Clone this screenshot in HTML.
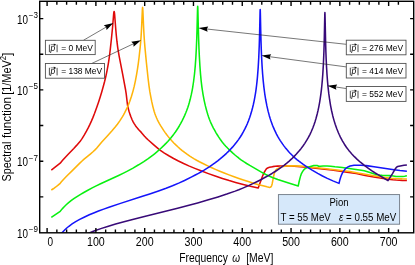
<!DOCTYPE html>
<html><head><meta charset="utf-8"><title>Pion spectral function</title>
<style>html,body{margin:0;padding:0;background:#fff;width:415px;height:265px;overflow:hidden}
body{font-family:"Liberation Sans",sans-serif}svg{display:block;position:absolute;left:0;top:0;will-change:transform}</style></head>
<body>
<svg width="415" height="265" viewBox="0 0 415 265">
<rect width="415" height="265" fill="#fff"/>
<clipPath id="c"><rect x="39.7" y="1.3" width="374" height="231.5"/></clipPath>
<g clip-path="url(#c)" fill="none" stroke-width="1.55" stroke-linejoin="round" stroke-linecap="butt">
<path d="M51.30 170.10 L60.20 163.20 L60.20 163.20 L62.60 160.31 L65.40 157.19 L68.20 154.21 L73.80 148.43 L76.60 145.38 L80.20 141.18 L81.00 140.14 L82.20 138.41 L84.20 135.16 L86.60 130.94 L88.20 127.92 L89.80 124.64 L91.40 121.14 L93.00 117.39 L94.60 113.31 L96.60 107.85 L98.60 102.05 L100.20 97.06 L101.80 91.73 L103.40 86.08 L104.60 81.54 L105.80 76.55 L107.00 70.92 L107.80 66.68 L108.49 62.62 L109.13 58.43 L109.69 54.23 L110.33 48.87 L111.40 38.98 L112.57 27.23 L113.65 14.02 L113.89 12.15 L114.01 11.67 L114.09 11.53 L114.13 11.52 L114.21 11.61 L114.33 12.04 L114.60 14.11 L115.77 29.20 L116.29 35.21 L116.97 41.72 L117.73 47.58 L118.37 51.71 L119.09 55.79 L122.60 73.81 L125.60 90.00 L126.20 93.95 L127.50 105.00 L127.50 105.00 L128.50 109.37 L129.00 111.21 L130.00 114.38 L131.00 117.08 L132.00 119.52 L133.00 121.65 L134.00 123.43 L135.50 125.69 L136.50 127.02 L138.00 128.88 L139.00 130.01 L141.50 132.65 L144.50 136.22 L146.00 137.82 L148.00 139.71 L153.50 144.61 L157.00 147.62 L160.00 150.10 L160.00 150.10 L164.40 153.05 L168.80 155.76 L173.60 158.48 L178.40 161.01 L183.60 163.53 L188.80 165.88 L194.80 168.40 L201.60 171.09 L208.40 173.64 L215.20 176.05 L222.40 178.44 L229.20 180.55 L235.60 182.38 L243.20 184.38 L250.40 186.18 L258.20 188.00 L258.20 188.00 L262.20 177.07 L263.10 174.80 L264.20 172.42 L264.70 171.48 L265.70 169.85 L266.20 169.12 L266.70 168.54 L267.20 168.18 L268.20 167.71 L269.50 167.30 L271.20 166.89 L272.70 166.64 L275.20 166.35 L277.70 166.11 L279.70 165.97 L282.20 165.90 L287.20 165.95 L291.20 166.04 L294.20 166.21 L306.70 167.31 L324.70 169.25 L331.70 170.08 L338.70 170.98 L345.20 171.88 L350.70 172.70 L356.20 173.61 L365.20 175.41 L375.20 177.23 L380.20 178.04 L388.20 179.19 L392.70 179.74 L396.20 180.05 L402.20 180.37 L406.90 180.50" stroke="#df0a0a"/>
<path d="M51.30 190.00 L53.30 188.76 L55.80 186.99 L57.80 185.44 L60.20 183.30 L60.20 183.30 L61.40 181.82 L63.00 179.96 L65.80 176.95 L67.80 174.95 L71.80 171.09 L79.80 163.12 L81.80 161.23 L83.80 159.45 L90.60 153.81 L93.00 151.74 L95.00 149.90 L96.60 148.23 L101.80 141.99 L107.80 135.52 L111.80 131.04 L115.00 127.26 L117.40 124.22 L119.80 120.89 L122.20 117.16 L123.40 115.13 L124.60 112.95 L126.60 108.97 L128.20 105.37 L129.80 101.25 L131.40 96.52 L133.00 91.11 L134.20 86.39 L135.40 80.83 L136.60 74.39 L137.36 69.79 L138.28 63.53 L139.08 57.27 L140.12 47.81 L140.68 41.86 L141.04 37.07 L141.36 31.83 L141.72 24.57 L142.32 10.48 L142.48 8.01 L142.60 7.40 L142.72 8.05 L142.88 10.56 L143.52 25.54 L143.96 34.07 L144.40 40.77 L144.92 47.17 L146.36 62.28 L148.00 77.74 L149.00 85.96 L149.80 91.43 L150.20 93.72 L151.00 97.96 L151.80 101.88 L153.00 107.09 L154.20 111.48 L155.00 113.90 L155.80 116.03 L156.60 118.00 L157.40 119.79 L158.20 121.41 L159.40 123.62 L160.60 125.64 L162.20 128.18 L163.80 130.63 L165.00 132.37 L166.60 134.57 L168.20 136.63 L170.00 138.80 L171.80 140.83 L173.80 142.94 L175.80 144.92 L177.80 146.79 L179.80 148.55 L182.20 150.53 L184.60 152.39 L187.00 154.16 L189.80 156.10 L191.80 157.41 L194.20 158.88 L196.60 160.26 L199.40 161.78 L203.40 163.81 L208.20 166.14 L211.80 167.81 L215.40 169.40 L219.80 171.26 L224.20 173.04 L229.00 174.90 L233.40 176.53 L238.20 178.24 L243.40 180.00 L249.00 181.81 L254.20 183.41 L258.60 184.68 L263.00 185.85 L267.00 186.84 L269.70 187.40 L269.70 187.40 L270.20 187.30 L270.70 187.02 L271.20 186.60 L271.70 185.50 L272.20 183.68 L273.70 175.97 L274.20 173.71 L274.60 172.40 L275.20 171.08 L275.70 170.26 L276.00 169.90 L276.70 169.27 L277.70 168.61 L279.70 167.63 L281.70 166.84 L282.70 166.56 L283.50 166.40 L286.20 166.04 L288.20 165.86 L290.00 165.80 L293.70 165.86 L300.20 166.11 L303.20 166.29 L308.20 166.74 L324.20 168.46 L341.20 170.44 L350.00 171.60 L355.20 172.44 L376.70 176.22 L380.20 176.75 L387.20 177.68 L391.70 178.20 L395.70 178.53 L402.20 178.81 L406.90 178.90" stroke="#ffb40a"/>
<path d="M51.30 217.40 L60.20 211.30 L60.20 211.30 L62.20 208.87 L64.20 206.72 L66.20 204.78 L68.60 202.67 L71.40 200.45 L74.20 198.43 L77.40 196.31 L80.60 194.33 L83.80 192.46 L87.40 190.47 L92.20 187.93 L96.20 185.90 L100.60 183.79 L118.60 175.51 L124.00 172.90 L127.40 171.17 L132.60 168.31 L138.60 164.79 L143.80 161.55 L148.20 158.59 L152.60 155.39 L154.60 153.83 L156.60 152.20 L160.20 149.01 L164.20 145.16 L166.20 143.12 L167.80 141.41 L171.00 137.72 L173.80 134.17 L175.40 131.96 L176.60 130.21 L178.20 127.73 L179.40 125.73 L180.60 123.61 L182.20 120.60 L183.40 118.19 L184.60 115.61 L185.80 112.79 L186.60 110.74 L187.80 107.39 L188.60 104.95 L189.40 102.28 L190.20 99.32 L191.40 94.19 L192.02 91.12 L192.62 87.80 L193.62 81.25 L194.50 73.97 L195.22 66.32 L195.86 57.41 L196.34 48.57 L196.74 38.81 L197.06 28.50 L197.54 9.11 L197.62 7.03 L197.70 6.25 L197.80 7.40 L197.90 10.46 L198.34 28.93 L198.66 39.82 L199.00 48.93 L199.38 57.00 L199.94 66.35 L200.54 74.33 L201.18 81.09 L201.94 87.29 L202.98 94.12 L203.58 97.46 L204.20 100.58 L205.40 105.89 L206.20 109.02 L207.00 111.89 L207.80 114.54 L208.60 116.98 L209.40 119.21 L210.20 121.26 L211.00 123.13 L212.20 125.69 L213.40 128.03 L214.60 130.23 L216.20 133.04 L217.40 135.02 L218.60 136.91 L220.20 139.27 L221.80 141.45 L223.00 142.97 L224.20 144.40 L225.80 146.17 L227.80 148.25 L230.20 150.60 L232.60 152.85 L235.00 154.98 L237.40 156.98 L239.40 158.55 L241.40 160.02 L243.80 161.67 L246.60 163.48 L249.80 165.42 L261.80 172.30 L265.80 174.49 L269.00 176.04 L273.00 177.69 L277.80 179.42 L288.60 183.02 L298.20 186.00 L298.20 186.00 L299.20 181.22 L300.20 177.35 L300.70 175.63 L301.20 174.18 L301.70 173.10 L302.70 171.33 L303.70 169.94 L304.20 169.40 L304.80 168.90 L305.70 168.33 L307.20 167.58 L308.70 167.01 L312.20 165.93 L313.70 165.56 L314.70 165.42 L315.70 165.41 L317.20 165.53 L317.70 165.71 L318.70 166.18 L319.20 166.30 L320.20 166.27 L323.20 165.97 L324.60 165.90 L327.20 165.96 L330.70 166.16 L335.00 166.80 L342.20 167.60 L345.70 168.05 L361.20 170.27 L364.30 170.80 L366.70 171.40 L372.20 173.20 L374.70 174.12 L375.70 174.43 L377.70 174.84 L379.70 175.13 L382.20 175.31 L389.70 175.64 L391.70 175.85 L396.20 176.44 L398.70 176.60 L400.70 176.56 L402.70 176.41 L404.70 176.17 L406.90 175.80" stroke="#08f010"/>
<path d="M61.30 233.67 L62.50 232.28 L63.70 230.99 L64.90 229.77 L66.50 228.27 L68.90 226.27 L70.50 225.07 L72.10 223.96 L75.70 221.67 L79.70 219.41 L84.10 217.19 L89.30 214.81 L93.70 212.96 L98.50 211.07 L103.70 209.13 L109.70 207.00 L120.50 203.38 L140.90 196.81 L149.70 193.93 L158.50 190.93 L166.10 188.22 L172.50 185.74 L179.30 182.87 L184.50 180.47 L191.70 176.92 L195.30 175.06 L198.50 173.34 L201.30 171.77 L204.10 170.12 L206.90 168.37 L209.70 166.54 L212.50 164.62 L215.30 162.62 L217.70 160.82 L220.10 158.92 L222.50 156.92 L224.50 155.16 L226.50 153.31 L228.50 151.36 L230.50 149.31 L232.50 147.14 L234.50 144.82 L236.50 142.32 L238.50 139.62 L240.10 137.28 L241.70 134.74 L243.30 131.97 L244.90 128.93 L246.10 126.44 L247.30 123.73 L248.50 120.75 L249.70 117.46 L250.50 115.06 L251.70 111.05 L252.50 108.05 L253.30 104.74 L254.20 100.56 L254.88 96.96 L255.48 93.37 L256.04 89.55 L256.56 85.49 L257.00 81.57 L257.44 77.08 L258.20 67.34 L258.76 57.55 L259.24 45.89 L259.60 33.52 L260.04 13.17 L260.12 10.52 L260.20 9.53 L260.28 10.51 L260.36 13.16 L260.72 30.25 L261.00 41.12 L261.30 50.09 L261.64 58.05 L262.08 66.15 L262.60 73.68 L263.20 80.62 L263.92 87.35 L264.76 93.76 L265.76 100.01 L266.90 105.93 L268.10 111.17 L269.30 115.66 L270.10 118.33 L270.90 120.78 L272.50 125.17 L273.30 127.16 L274.50 129.92 L276.50 134.04 L277.70 136.27 L278.90 138.36 L280.10 140.32 L281.30 142.17 L282.50 143.91 L284.10 146.10 L285.30 147.65 L286.90 149.60 L288.50 151.44 L290.10 153.17 L291.70 154.81 L293.30 156.36 L294.90 157.82 L296.90 159.54 L298.90 161.15 L300.90 162.67 L303.30 164.39 L305.70 166.02 L308.90 168.10 L312.10 170.10 L317.70 173.42 L322.50 176.01 L327.30 178.35 L332.90 180.87 L339.00 183.40 L339.00 183.40 L340.00 179.41 L340.50 177.70 L341.20 175.70 L342.00 173.90 L342.50 172.95 L343.00 172.11 L344.00 170.61 L345.00 169.25 L345.50 168.68 L346.00 168.19 L346.50 167.80 L348.00 166.91 L349.00 166.44 L350.00 166.07 L351.50 165.73 L354.00 165.35 L355.00 165.25 L356.40 165.20 L361.00 165.32 L364.50 165.51 L366.00 165.64 L368.00 165.89 L374.00 166.76 L389.00 169.09 L394.00 169.82 L400.00 170.54 L406.90 171.20" stroke="#1414fa"/>
<path d="M88.00 233.47 L94.00 231.07 L100.80 228.62 L107.60 226.40 L115.60 224.01 L124.00 221.67 L133.60 219.14 L144.40 216.41 L177.60 208.17 L188.00 205.49 L197.60 202.91 L208.40 199.85 L218.00 196.94 L226.80 194.08 L235.20 191.13 L238.80 189.76 L242.80 188.11 L248.00 185.84 L252.80 183.66 L256.80 181.72 L260.80 179.69 L264.80 177.55 L268.80 175.32 L272.00 173.46 L275.20 171.49 L278.40 169.39 L281.20 167.44 L284.00 165.36 L286.80 163.14 L289.20 161.11 L291.60 158.94 L294.00 156.61 L296.40 154.09 L298.80 151.36 L300.80 148.89 L302.80 146.24 L304.80 143.37 L306.80 140.21 L308.40 137.42 L310.00 134.32 L311.20 131.76 L312.80 127.95 L314.00 124.74 L315.20 121.14 L316.00 118.48 L317.20 114.02 L318.00 110.63 L318.80 106.83 L319.54 102.84 L320.22 98.66 L320.86 94.14 L321.42 89.55 L321.90 85.00 L322.38 79.67 L322.78 74.41 L323.42 63.59 L323.94 50.97 L324.34 36.61 L324.78 14.98 L324.90 12.53 L324.98 13.67 L325.06 16.66 L325.62 43.12 L325.90 52.26 L326.18 59.48 L326.58 67.66 L327.02 74.79 L327.54 81.58 L328.10 87.57 L328.82 93.90 L329.66 99.99 L330.58 105.55 L331.60 110.75 L332.80 115.93 L334.00 120.36 L335.20 124.24 L336.80 128.77 L338.40 132.73 L339.20 134.54 L340.40 137.06 L342.40 140.85 L344.40 144.21 L346.40 147.21 L348.80 150.40 L350.00 151.86 L351.60 153.70 L354.40 156.68 L357.20 159.39 L360.40 162.21 L364.40 165.43 L368.40 168.43 L371.60 170.65 L375.20 172.98 L378.40 174.93 L382.80 177.49 L388.00 180.70 L388.00 180.70 L392.50 173.54 L395.00 169.24 L396.00 167.83 L397.00 166.84 L397.50 166.56 L399.00 166.15 L404.00 165.29 L406.90 164.90" stroke="#380a78"/>
</g>
<rect x="39.7" y="1.3" width="374" height="231.5" stroke="#000" stroke-width="1.4" fill="none"/>
<path d="M47.10 232.8v-4.8 M47.10 1.3v4.8 M56.86 232.8v-3.4 M56.86 1.3v3.4 M66.62 232.8v-3.4 M66.62 1.3v3.4 M76.37 232.8v-3.4 M76.37 1.3v3.4 M86.13 232.8v-3.4 M86.13 1.3v3.4 M95.89 232.8v-4.8 M95.89 1.3v4.8 M105.65 232.8v-3.4 M105.65 1.3v3.4 M115.41 232.8v-3.4 M115.41 1.3v3.4 M125.16 232.8v-3.4 M125.16 1.3v3.4 M134.92 232.8v-3.4 M134.92 1.3v3.4 M144.68 232.8v-4.8 M144.68 1.3v4.8 M154.44 232.8v-3.4 M154.44 1.3v3.4 M164.20 232.8v-3.4 M164.20 1.3v3.4 M173.95 232.8v-3.4 M173.95 1.3v3.4 M183.71 232.8v-3.4 M183.71 1.3v3.4 M193.47 232.8v-4.8 M193.47 1.3v4.8 M203.23 232.8v-3.4 M203.23 1.3v3.4 M212.99 232.8v-3.4 M212.99 1.3v3.4 M222.74 232.8v-3.4 M222.74 1.3v3.4 M232.50 232.8v-3.4 M232.50 1.3v3.4 M242.26 232.8v-4.8 M242.26 1.3v4.8 M252.02 232.8v-3.4 M252.02 1.3v3.4 M261.78 232.8v-3.4 M261.78 1.3v3.4 M271.53 232.8v-3.4 M271.53 1.3v3.4 M281.29 232.8v-3.4 M281.29 1.3v3.4 M291.05 232.8v-4.8 M291.05 1.3v4.8 M300.81 232.8v-3.4 M300.81 1.3v3.4 M310.57 232.8v-3.4 M310.57 1.3v3.4 M320.32 232.8v-3.4 M320.32 1.3v3.4 M330.08 232.8v-3.4 M330.08 1.3v3.4 M339.84 232.8v-4.8 M339.84 1.3v4.8 M349.60 232.8v-3.4 M349.60 1.3v3.4 M359.36 232.8v-3.4 M359.36 1.3v3.4 M369.11 232.8v-3.4 M369.11 1.3v3.4 M378.87 232.8v-3.4 M378.87 1.3v3.4 M388.63 232.8v-4.8 M388.63 1.3v4.8 M398.39 232.8v-3.4 M398.39 1.3v3.4 M39.7 196.85h3.6 M413.7 196.85h-3.6 M39.7 161.20h3.6 M413.7 161.20h-3.6 M39.7 125.55h3.6 M413.7 125.55h-3.6 M39.7 89.90h3.6 M413.7 89.90h-3.6 M39.7 54.25h3.6 M413.7 54.25h-3.6 M39.7 18.60h3.6 M413.7 18.60h-3.6" stroke="#000" stroke-width="1.4" fill="none"/>
<g font-family="Liberation Sans, sans-serif" font-size="12" fill="#000">
<text x="50.40" y="245.6" text-anchor="middle" textLength="5.6" lengthAdjust="spacingAndGlyphs">0</text>
<text x="95.89" y="245.6" text-anchor="middle" textLength="17.8" lengthAdjust="spacingAndGlyphs">100</text>
<text x="144.68" y="245.6" text-anchor="middle" textLength="17.8" lengthAdjust="spacingAndGlyphs">200</text>
<text x="193.47" y="245.6" text-anchor="middle" textLength="17.8" lengthAdjust="spacingAndGlyphs">300</text>
<text x="242.26" y="245.6" text-anchor="middle" textLength="17.8" lengthAdjust="spacingAndGlyphs">400</text>
<text x="291.05" y="245.6" text-anchor="middle" textLength="17.8" lengthAdjust="spacingAndGlyphs">500</text>
<text x="339.84" y="245.6" text-anchor="middle" textLength="17.8" lengthAdjust="spacingAndGlyphs">600</text>
<text x="388.63" y="245.6" text-anchor="middle" textLength="17.8" lengthAdjust="spacingAndGlyphs">700</text>
<text x="16.9" y="23.70" textLength="11.0" lengthAdjust="spacingAndGlyphs">10</text>
<text x="28.7" y="18.10" font-size="8.3" textLength="9.2" lengthAdjust="spacingAndGlyphs">−3</text>
<text x="16.9" y="95.00" textLength="11.0" lengthAdjust="spacingAndGlyphs">10</text>
<text x="28.7" y="89.40" font-size="8.3" textLength="9.2" lengthAdjust="spacingAndGlyphs">−5</text>
<text x="16.9" y="166.30" textLength="11.0" lengthAdjust="spacingAndGlyphs">10</text>
<text x="28.7" y="160.70" font-size="8.3" textLength="9.2" lengthAdjust="spacingAndGlyphs">−7</text>
<text x="16.9" y="237.60" textLength="11.0" lengthAdjust="spacingAndGlyphs">10</text>
<text x="28.7" y="232.00" font-size="8.3" textLength="9.2" lengthAdjust="spacingAndGlyphs">−9</text>
<text x="179.3" y="262.1" textLength="48.6" lengthAdjust="spacingAndGlyphs">Frequency</text>
<text x="232.3" y="262.1" font-style="italic" textLength="7.8" lengthAdjust="spacingAndGlyphs">ω</text>
<text x="246.2" y="262.1" textLength="27.2" lengthAdjust="spacingAndGlyphs">[MeV]</text>
<g transform="translate(11.2 181.4) rotate(-90)">
<text x="0" y="0" textLength="39.7" lengthAdjust="spacingAndGlyphs">Spectral</text>
<text x="43.5" y="0" textLength="40.8" lengthAdjust="spacingAndGlyphs">function</text>
<text x="86.6" y="0" textLength="34.6" lengthAdjust="spacingAndGlyphs">[1/MeV</text>
<text x="121.2" y="-5.1" font-size="8.4" textLength="4.3" lengthAdjust="spacingAndGlyphs">2</text>
<text x="125.4" y="0" textLength="3.4" lengthAdjust="spacingAndGlyphs">]</text>
</g>
</g>
<path d="M83.40 40.30L106.13 27.11" stroke="#222" stroke-width="0.62" fill="none"/>
<path d="M113.40 22.90L106.56 30.05L106.13 27.11L103.80 25.29Z" fill="#000"/>
<path d="M91.70 63.50L133.41 43.79" stroke="#222" stroke-width="0.62" fill="none"/>
<path d="M141.00 40.20L133.59 46.75L133.41 43.79L131.24 41.77Z" fill="#000"/>
<path d="M346.20 44.30L206.85 29.02" stroke="#222" stroke-width="0.62" fill="none"/>
<path d="M198.50 28.10L208.24 26.40L206.85 29.02L207.64 31.87Z" fill="#000"/>
<path d="M346.20 66.90L269.73 56.71" stroke="#222" stroke-width="0.62" fill="none"/>
<path d="M261.40 55.60L271.18 54.13L269.73 56.71L270.45 59.58Z" fill="#000"/>
<path d="M346.50 88.60L335.70 86.96" stroke="#222" stroke-width="0.62" fill="none"/>
<path d="M327.40 85.70L337.21 84.41L335.70 86.96L336.38 89.84Z" fill="#000"/>
<g font-family="Liberation Sans, sans-serif" font-size="9.4" fill="#000">
<rect x="45.40" y="40.30" width="49.80" height="14.30" fill="#fff" stroke="#505050" stroke-width="0.9"/>
<path d="M49.40 44.60v7.6M57.10 44.60v7.6" stroke="#222" stroke-width="0.8" fill="none"/>
<text x="50.50" y="50.60" font-style="italic" font-size="8.6" textLength="4.7" lengthAdjust="spacingAndGlyphs">p</text>
<text x="61.20" y="50.90" textLength="31.80" lengthAdjust="spacingAndGlyphs">= 0 MeV</text>
<path d="M50.70 44.70h5.0" stroke="#222" stroke-width="0.6" fill="none"/><path d="M56.00 44.70l-2.2 -1.3v2.6z" fill="#111"/>
<rect x="45.40" y="63.50" width="59.10" height="14.70" fill="#fff" stroke="#505050" stroke-width="0.9"/>
<path d="M49.40 67.80v7.6M57.10 67.80v7.6" stroke="#222" stroke-width="0.8" fill="none"/>
<text x="50.50" y="73.80" font-style="italic" font-size="8.6" textLength="4.7" lengthAdjust="spacingAndGlyphs">p</text>
<text x="61.20" y="74.10" textLength="41.00" lengthAdjust="spacingAndGlyphs">= 138 MeV</text>
<path d="M50.70 67.90h5.0" stroke="#222" stroke-width="0.6" fill="none"/><path d="M56.00 67.90l-2.2 -1.3v2.6z" fill="#111"/>
<rect x="346.30" y="40.20" width="59.70" height="14.60" fill="#fff" stroke="#505050" stroke-width="0.9"/>
<path d="M350.30 44.50v7.6M358.00 44.50v7.6" stroke="#222" stroke-width="0.8" fill="none"/>
<text x="351.40" y="50.50" font-style="italic" font-size="8.6" textLength="4.7" lengthAdjust="spacingAndGlyphs">p</text>
<text x="362.10" y="50.80" textLength="41.00" lengthAdjust="spacingAndGlyphs">= 276 MeV</text>
<path d="M351.60 44.60h5.0" stroke="#222" stroke-width="0.6" fill="none"/><path d="M356.90 44.60l-2.2 -1.3v2.6z" fill="#111"/>
<rect x="346.30" y="63.40" width="59.70" height="14.60" fill="#fff" stroke="#505050" stroke-width="0.9"/>
<path d="M350.30 67.70v7.6M358.00 67.70v7.6" stroke="#222" stroke-width="0.8" fill="none"/>
<text x="351.40" y="73.70" font-style="italic" font-size="8.6" textLength="4.7" lengthAdjust="spacingAndGlyphs">p</text>
<text x="362.10" y="74.00" textLength="41.00" lengthAdjust="spacingAndGlyphs">= 414 MeV</text>
<path d="M351.60 67.80h5.0" stroke="#222" stroke-width="0.6" fill="none"/><path d="M356.90 67.80l-2.2 -1.3v2.6z" fill="#111"/>
<rect x="346.30" y="86.50" width="59.70" height="14.90" fill="#fff" stroke="#505050" stroke-width="0.9"/>
<path d="M350.30 90.80v7.6M358.00 90.80v7.6" stroke="#222" stroke-width="0.8" fill="none"/>
<text x="351.40" y="96.80" font-style="italic" font-size="8.6" textLength="4.7" lengthAdjust="spacingAndGlyphs">p</text>
<text x="362.10" y="97.10" textLength="41.00" lengthAdjust="spacingAndGlyphs">= 552 MeV</text>
<path d="M351.60 90.90h5.0" stroke="#222" stroke-width="0.6" fill="none"/><path d="M356.90 90.90l-2.2 -1.3v2.6z" fill="#111"/>
</g>
<rect x="278.4" y="194.6" width="121.2" height="29.6" fill="#d6e8fa" stroke="#6f7884" stroke-width="0.9"/>
<g font-family="Liberation Sans, sans-serif" font-size="10" fill="#000">
<text x="329.4" y="205.9" textLength="19.1" lengthAdjust="spacingAndGlyphs">Pion</text>
<text x="280.5" y="220.5" textLength="50.3" lengthAdjust="spacingAndGlyphs">T = 55 MeV</text>
<text x="339.1" y="220.5" textLength="57.1" lengthAdjust="spacingAndGlyphs"><tspan font-style="italic">ε</tspan> = 0.55 MeV</text>
</g>
</svg>
</body></html>
